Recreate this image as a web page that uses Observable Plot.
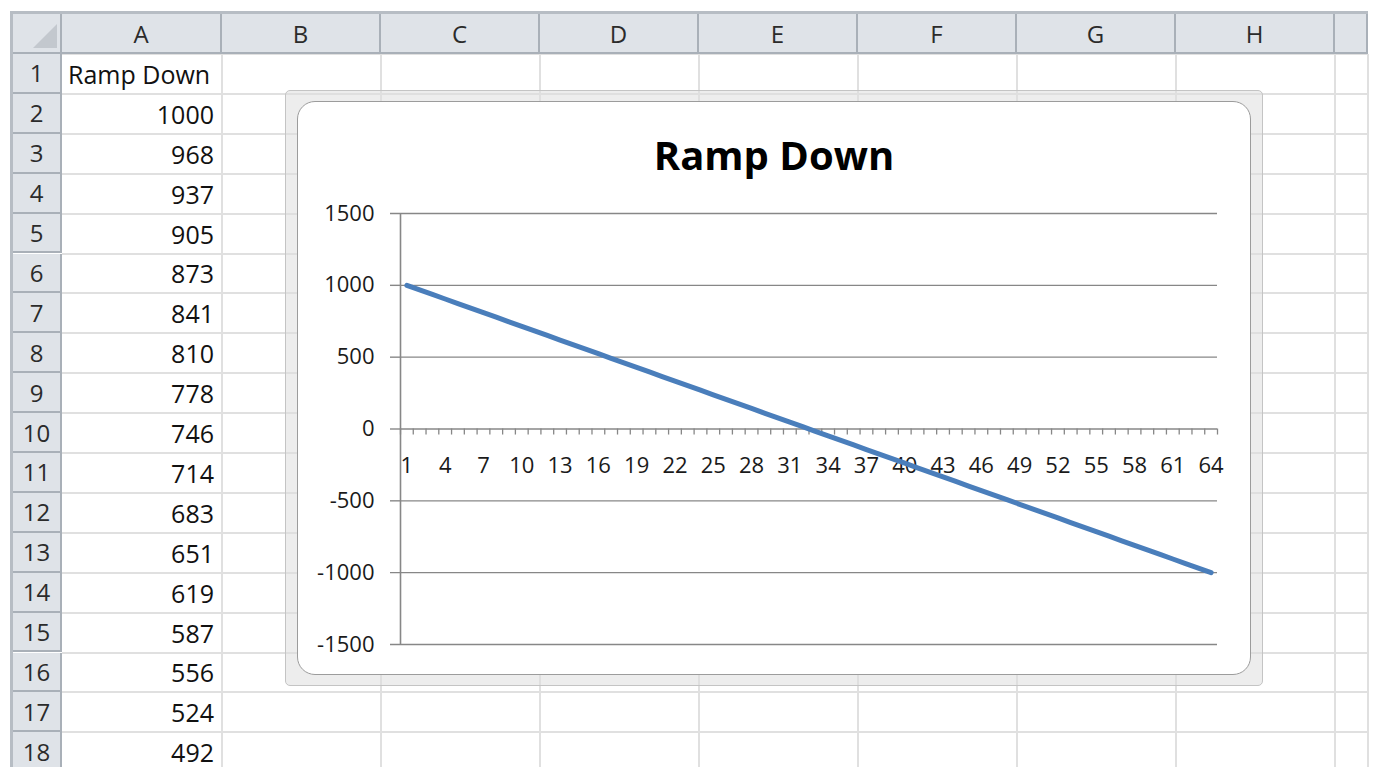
<!DOCTYPE html>
<html>
<head>
<meta charset="utf-8">
<script src="https://cdn.jsdelivr.net/npm/d3@7"></script>
<script src="https://cdn.jsdelivr.net/npm/@observablehq/plot@0.6"></script>
<style>
  html, body { margin: 0; padding: 0; background: #fff; }
  body { width: 1375px; height: 767px; overflow: hidden; position: relative; font-family: "Open Sans", sans-serif; }
  .abs { position: absolute; box-sizing: border-box; }
  .hdr { background: #dfe3e8; color: #2b2b2b; font-size: 24px; display: flex; align-items: center; justify-content: center; }
  .cell { font-size: 25px; color: #111; display: flex; align-items: center; white-space: nowrap; }
  #frame { left: 285px; top: 90px; width: 978px; height: 596px; border: 1px solid #c4c4c4; border-radius: 5px; background: rgba(222,222,222,0.55); }
  #inner { left: 297px; top: 101px; width: 954px; height: 574px; border: 1px solid #9c9c9c; border-radius: 18px; background: #fff; overflow: hidden; }
  #title { left: 0; top: 30px; width: 952px; text-align: center; font-weight: 700; font-size: 40px; line-height: 46px; color: #000; }
  #plot { left: 0; top: 90px; }
</style>
</head>
<body>
<div id="sheet"></div>
<div id="frame" class="abs"></div>
<div id="inner" class="abs">
  <div id="title" class="abs"></div>
  <div id="plot" class="abs"></div>
</div>
<script>
// ---------- data ----------
const chartTitle = "Ramp Down";
const seriesName = "Ramp Down";
const rampDown = [
  1000, 968, 937, 905, 873, 841, 810, 778, 746, 714, 683, 651, 619, 587, 556, 524,
  492, 460, 429, 397, 365, 333, 302, 270, 238, 206, 175, 143, 111, 79, 48, 16,
  -16, -48, -79, -111, -143, -175, -206, -238, -270, -302, -333, -365, -397, -429, -460, -492,
  -524, -556, -587, -619, -651, -683, -714, -746, -778, -810, -841, -873, -905, -937, -968, -1000
];
const columnLetters = ["A", "B", "C", "D", "E", "F", "G", "H", ""];
const yTickValues = [-1500, -1000, -500, 0, 500, 1000, 1500];
const xTickLabels = [1, 4, 7, 10, 13, 16, 19, 22, 25, 28, 31, 34, 37, 40, 43, 46, 49, 52, 55, 58, 61, 64];

// ---------- spreadsheet layout ----------
const colEdges = [62, 222, 381, 540, 699, 858, 1017, 1176, 1335, 1368];
const headerTop = 14, headerBottom = 54, rowH = 39.9, rowCount = 18;
const sheet = document.getElementById("sheet");
function box(cls, l, t, w, h, css, txt) {
  const d = document.createElement("div");
  d.className = "abs " + (cls || "");
  Object.assign(d.style, { left: l + "px", top: t + "px", width: w + "px", height: h + "px" }, css || {});
  if (txt !== undefined) d.textContent = txt;
  sheet.appendChild(d);
  return d;
}
// outer border lines
box("", 10, 11, colEdges[colEdges.length - 1] - 10, 3, { background: "#b7bdc4" });
box("", 10, 11, 3, 767, { background: "#b7bdc4" });
// body gridlines
for (let r = 0; r <= rowCount; r++) {
  const y = headerBottom + r * rowH;
  box("", colEdges[0], y - 1, colEdges[colEdges.length - 1] - colEdges[0], 2, { background: "#e0e0e0" });
}
for (let c = 1; c < colEdges.length; c++) {
  box("", colEdges[c] - 1, headerBottom, 2, 767 - headerBottom, { background: "#e0e0e0" });
}
// corner header
box("hdr", 13, headerTop, colEdges[0] - 13, headerBottom - headerTop, { borderRight: "2px solid #a9b0b8", borderBottom: "2px solid #a9b0b8" });
box("", 33, 24, 0, 0, { borderLeft: "24px solid transparent", borderBottom: "24px solid #c3c8ce" });
// column headers
for (let c = 0; c < colEdges.length - 1; c++) {
  box("hdr", colEdges[c], headerTop, colEdges[c + 1] - colEdges[c], headerBottom - headerTop,
      { borderRight: "2px solid #a9b0b8", borderBottom: "2px solid #a9b0b8" }, columnLetters[c]);
}
// row headers
for (let r = 0; r < rowCount; r++) {
  const y = headerBottom + r * rowH;
  box("hdr", 13, y, colEdges[0] - 13, rowH, { borderRight: "2px solid #a9b0b8", borderBottom: "2px solid #a9b0b8" }, String(r + 1));
}
// column A contents
box("cell", colEdges[0] + 6, headerBottom, 160, rowH, {}, seriesName);
for (let r = 1; r < rowCount; r++) {
  const y = headerBottom + r * rowH;
  box("cell", colEdges[0], y, colEdges[1] - colEdges[0] - 8, rowH, { justifyContent: "flex-end" }, String(rampDown[r - 1]));
}

// ---------- chart ----------
document.getElementById("title").textContent = chartTitle;
const categories = rampDown.map((d, i) => i + 1);
const boundaries = [categories[0] - 0.5, ...categories.map(c => c + 0.5)];
const gridColor = "#878787";

const chart = Plot.plot({
  width: 952,
  height: 482,
  marginLeft: 102,
  marginRight: 33,
  marginTop: 21,
  marginBottom: 30,
  style: { fontFamily: "Open Sans, sans-serif", fontSize: "22px", color: "#1a1a1a", background: "transparent" },
  x: { type: "linear", domain: [boundaries[0], boundaries[boundaries.length - 1]], axis: null },
  y: { domain: [yTickValues[0], yTickValues[yTickValues.length - 1]], axis: null },
  marks: [
    Plot.ruleY(yTickValues.filter(v => v !== 0), { stroke: gridColor, strokeWidth: 1.4 }),
    Plot.axisY(yTickValues, { tickSize: 10, tickPadding: 16, stroke: gridColor, strokeWidth: 1.4, fontSize: 22, fill: "#1a1a1a", tickFormat: d => String(d) }),
    Plot.ruleX([boundaries[0]], { stroke: gridColor, strokeWidth: 1.6 }),
    Plot.ruleY([0], { stroke: gridColor, strokeWidth: 1.6 }),
    Plot.ruleX(boundaries, { x: d => d, y1: 0, y2: -42, stroke: gridColor, strokeWidth: 1.3 }),
    Plot.text(xTickLabels, { x: d => d, y: 0, dy: 37, fontSize: 22, fill: "#1a1a1a" }),
    Plot.line(rampDown, { x: (d, i) => categories[i], y: d => d, stroke: "#4a7ebb", strokeWidth: 5, strokeLinejoin: "round", strokeLinecap: "round" })
  ]
});
document.getElementById("plot").appendChild(chart);
</script>
</body>
</html>
